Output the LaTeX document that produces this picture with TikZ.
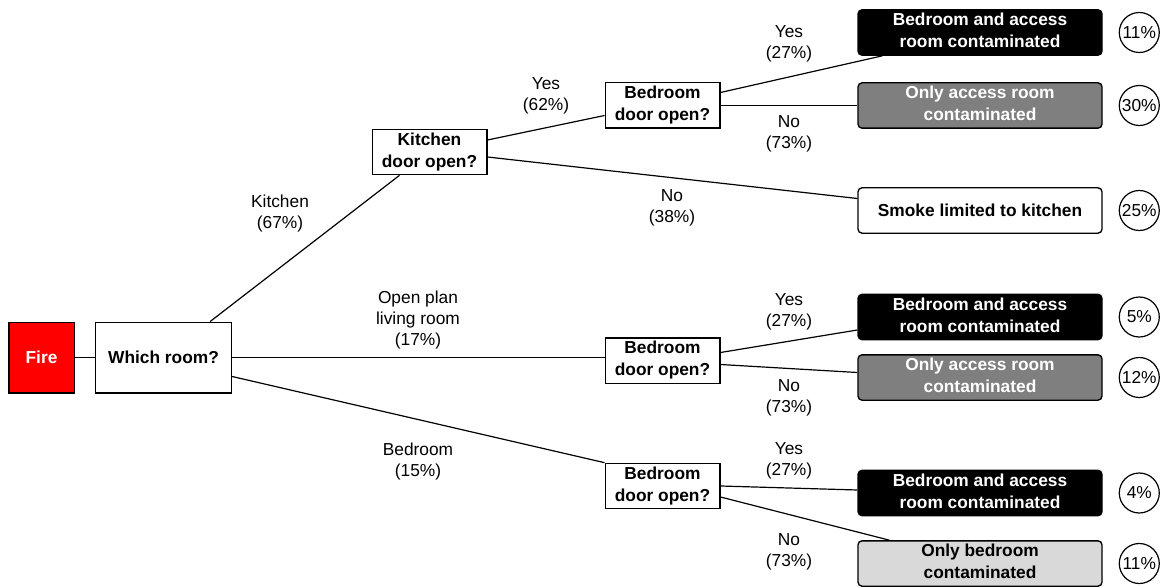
\documentclass[tikz,border=0pt]{standalone}
\usepackage{fontspec}
\setmainfont{Liberation Sans}
\usepackage{xcolor}
\usepackage{tikz}
\usetikzlibrary{positioning, calc}

\definecolor{firered}{HTML}{FF0000}
\definecolor{midgrey}{HTML}{7F7F7F}
\definecolor{lightgrey}{HTML}{D9D9D9}

\begin{document}
\begin{tikzpicture}[x=0.75pt, y=-0.75pt, font=\fontsize{13}{15.75}\selectfont,
        decision/.style={draw, rectangle, line width=1pt, minimum width=86pt, minimum height=34pt, inner sep=0pt, font=\fontsize{13}{16.5}\selectfont\bfseries},
        outcome/.style={draw, rectangle, rounded corners=3pt, line width=1pt, minimum width=183pt, minimum height=34pt, inner sep=0pt, font=\fontsize{13}{16.5}\selectfont\bfseries},
        share/.style={draw, circle, line width=0.9pt, minimum size=30pt, inner sep=0pt},
        branch/.style={line width=0.9pt},
        lbl/.style={align=center}]
        \useasboundingbox (0,0) rectangle (1174,588);

        % Start
        \node[decision, fill=firered, text=white, minimum width=49pt, minimum height=53pt] (fire) at (41.5,357.5) {Fire};
        \node[decision, right=15pt of fire, minimum width=102pt, minimum height=53pt] (room) {Which room?};

        % Door questions
        \node[decision] (kitch) at (429.5,152) {
            \begin{tabular}{c}
                Kitchen \\
                door open?
            \end{tabular}
        };
        \node[decision] (bedA) at (662.5,105.5) {
            \begin{tabular}{c}
                Bedroom \\
                door open?
            \end{tabular}
        };
        \node[decision] (bedB) at (662.5,360.5) {
            \begin{tabular}{c}
                Bedroom \\
                door open?
            \end{tabular}
        };
        \node[decision] (bedC) at (662.5,486) {
            \begin{tabular}{c}
                Bedroom \\
                door open?
            \end{tabular}
        };

        % Outcomes
        \node[outcome, fill=black, text=white] (outA1) at (980,32.5) {
            \begin{tabular}{c}
                Bedroom and access \\
                room contaminated
            \end{tabular}
        };
        \node[outcome, fill=midgrey, text=white] (outA2) at (980,105.5) {
            \begin{tabular}{c}
                Only access room \\
                contaminated
            \end{tabular}
        };
        \node[outcome, fill=white] (outK) at (980,210.5) {Smoke limited to kitchen};
        \node[outcome, fill=black, text=white] (outB1) at (980,317) {
            \begin{tabular}{c}
                Bedroom and access \\
                room contaminated
            \end{tabular}
        };
        \node[outcome, fill=midgrey, text=white] (outB2) at (980,377.5) {
            \begin{tabular}{c}
                Only access room \\
                contaminated
            \end{tabular}
        };
        \node[outcome, fill=black, text=white] (outC1) at (980,493) {
            \begin{tabular}{c}
                Bedroom and access \\
                room contaminated
            \end{tabular}
        };
        \node[outcome, fill=lightgrey] (outC2) at (980,563.5) {
            \begin{tabular}{c}
                Only bedroom \\
                contaminated
            \end{tabular}
        };

        % Shares
        \node[share, right=12pt of outA1] (pA1) {11\%};
        \node[share, right=12pt of outA2] (pA2) {30\%};
        \node[share, right=12pt of outK] (pK) {25\%};
        \node[share, right=12pt of outB1] (pB1) {5\%};
        \node[share, right=12pt of outB2] (pB2) {12\%};
        \node[share, right=12pt of outC1] (pC1) {4\%};
        \node[share, right=12pt of outC2] (pC2) {11\%};

        % Branch labels
        \node[lbl] (lKitchen) at (280,214) {Kitchen\\(67\%)};
        \node[lbl] (lKYes) at (546,96) {Yes\\(62\%)};
        \node[lbl] (lKNo) at (672,208) {No\\(38\%)};
        \node[lbl] (lAYes) at (789,43.5) {Yes\\(27\%)};
        \node[lbl] (lANo) at (789,134) {No\\(73\%)};
        \node[lbl] (lOpen) at (418,320) {Open plan\\living room\\(17\%)};
        \node[lbl] (lBYes) at (789,312) {Yes\\(27\%)};
        \node[lbl] (lBNo) at (789,397.5) {No\\(73\%)};
        \node[lbl] (lBedroom) at (418,462) {Bedroom\\(15\%)};
        \node[lbl] (lCYes) at (789,461) {Yes\\(27\%)};
        \node[lbl] (lCNo) at (789,552) {No\\(73\%)};

        % Branches
        \draw[branch] (fire) -- (room);
        \draw[branch] ($(room.north east)+(-22,0)$) -- ($(kitch.south west)+(28,0)$);
        \draw[branch] (room.east) -- (room.east -| bedB.west);
        \draw[branch] ($(room.south east)+(0,-17)$) -- (bedC.north west);
        \draw[branch] ($(kitch.east)+(0,-12)$) -- ($(bedA.west)+(0,10)$);
        \draw[branch] ($(kitch.east)+(0,5)$) -- ($(outK.west)+(0,-12)$);
        \draw[branch] ($(bedA.east)+(0,-13)$) -- ($(outA1.south west)+(25,0)$);
        \draw[branch] (bedA.east) -- (outA2.west);
        \draw[branch] ($(bedB.east)+(0,-8)$) -- ($(outB1.west)+(0,13)$);
        \draw[branch] ($(bedB.east)+(0,4)$) -- ($(outB2.west)+(0,-5)$);
        \draw[branch] (bedC.east) -- ($(outC1.west)+(0,-3)$);
        \draw[branch] ($(bedC.east)+(0,11)$) -- ($(outC2.north west)+(32,0)$);
\end{tikzpicture}
\end{document}
